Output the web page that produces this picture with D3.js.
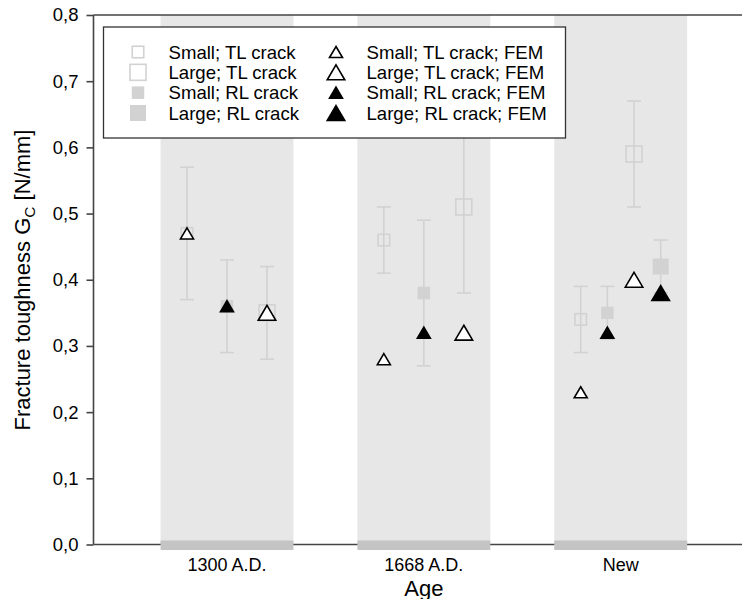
<!DOCTYPE html>
<html>
<head>
<meta charset="utf-8">
<script src="https://cdn.jsdelivr.net/npm/d3@7"></script>
<style>
  html, body { margin: 0; padding: 0; background: #fff; }
  svg { display: block; font-family: "Liberation Sans", Arial, Helvetica, sans-serif; }
</style>
</head>
<body>
<svg id="chart" width="742" height="599"></svg>
<script>
// ---------- data ----------
const categories = ["1300 A.D.", "1668 A.D.", "New"];
const yTicks = [0, 0.1, 0.2, 0.3, 0.4, 0.5, 0.6, 0.7, 0.8];

// experimental means and error bar limits (null = no measurement)
const smallTL = [0.47, 0.46, 0.34];
const smallTLLow = [0.37, 0.41, 0.29];
const smallTLHigh = [0.57, 0.51, 0.39];

const smallRL = [0.36, 0.38, 0.35];
const smallRLLow = [0.29, 0.27, 0.31];
const smallRLHigh = [0.43, 0.49, 0.39];

const largeTL = [0.35, 0.51, 0.59];
const largeTLLow = [0.28, 0.38, 0.51];
const largeTLHigh = [0.42, 0.64, 0.67];

const largeRL = [null, null, 0.42];
const largeRLLow = [null, null, 0.38];
const largeRLHigh = [null, null, 0.46];

// FEM values
const smallTLFEM = [0.47, 0.28, 0.23];
const smallRLFEM = [0.36, 0.32, 0.32];
const largeTLFEM = [0.35, 0.32, 0.40];
const largeRLFEM = [null, null, 0.38];

const seriesNames = ["Small; TL crack", "Large; TL crack", "Small; RL crack", "Large; RL crack"];
const femNames = ["Small; TL crack; FEM", "Large; TL crack; FEM", "Small; RL crack; FEM", "Large; RL crack; FEM"];

// ---------- build series table ----------
const series = [
  { key: "sTL", mean: smallTL, lo: smallTLLow, hi: smallTLHigh, fem: smallTLFEM, size: "s", type: "TL" },
  { key: "sRL", mean: smallRL, lo: smallRLLow, hi: smallRLHigh, fem: smallRLFEM, size: "s", type: "RL" },
  { key: "lTL", mean: largeTL, lo: largeTLLow, hi: largeTLHigh, fem: largeTLFEM, size: "l", type: "TL" },
  { key: "lRL", mean: largeRL, lo: largeRLLow, hi: largeRLHigh, fem: largeRLFEM, size: "l", type: "RL" }
];

const points = [];
categories.forEach((cat, ci) => {
  const present = series.filter(s => s.mean[ci] != null);
  const offs = d3.scalePoint().domain(present.map(s => s.key)).range([-40, 40]);
  present.forEach(s => {
    points.push({ cat, ci, s, off: offs(s.key), mean: s.mean[ci], lo: s.lo[ci], hi: s.hi[ci], fem: s.fem[ci] });
  });
});

// ---------- layout ----------
const svg = d3.select("#chart");
const pLeft = 93.5, pRight = 742, pTop = 15, pBottom = 544.5;

const x = d3.scaleBand().domain(categories).range([pLeft, pRight])
  .paddingInner(64 / 197).paddingOuter(0.3096).align(0.55);
const y = d3.scaleLinear().domain([0, 0.8]).range([pBottom, pTop]);

const locale = d3.formatLocale({ decimal: ",", thousands: ".", grouping: [3], currency: ["", ""] });
const fmt = locale.format(".1f");

const bandFill = "#e6e7e6";
const stripFill = "#c3c4c3";
const lightGrey = "#d2d2d2";
const axisCol = "#444";
const textCol = "#000";

// bands
svg.append("g").selectAll("rect").data(categories).join("rect")
  .attr("x", d => x(d)).attr("width", x.bandwidth())
  .attr("y", pTop).attr("height", pBottom - pTop)
  .attr("fill", bandFill);

// frame lines: top and bottom
svg.append("line").attr("x1", pLeft).attr("x2", pRight).attr("y1", pTop).attr("y2", pTop)
  .attr("stroke", axisCol).attr("stroke-width", 1.6);
svg.append("line").attr("x1", pLeft).attr("x2", pRight).attr("y1", pBottom).attr("y2", pBottom)
  .attr("stroke", axisCol).attr("stroke-width", 1.6);

// bottom strips on the x axis
svg.append("g").selectAll("rect").data(categories).join("rect")
  .attr("x", d => x(d)).attr("width", x.bandwidth())
  .attr("y", pBottom - 4).attr("height", 9.5)
  .attr("fill", stripFill);

// y axis
const yAxis = svg.append("g").attr("transform", `translate(${pLeft},0)`)
  .call(d3.axisLeft(y).tickValues(yTicks).tickFormat(fmt).tickSize(7).tickPadding(8));
yAxis.select(".domain").attr("stroke", axisCol).attr("stroke-width", 1.6).attr("d", `M0,${pTop}V${pBottom}`);
yAxis.selectAll(".tick line").attr("stroke", axisCol).attr("stroke-width", 1.6);
yAxis.selectAll(".tick text").attr("font-size", 18.5).attr("fill", textCol)
  .attr("font-family", "'Liberation Sans', Arial, sans-serif");

// x labels
svg.append("g").selectAll("text").data(categories).join("text")
  .attr("x", d => x(d) + x.bandwidth() / 2).attr("y", 571)
  .attr("text-anchor", "middle").attr("font-size", 18).attr("fill", textCol)
  .text(d => d);

// axis titles
svg.append("text").attr("x", x(categories[1]) + x.bandwidth() / 2).attr("y", 595.5)
  .attr("text-anchor", "middle").attr("font-size", 22).attr("fill", textCol).text("Age");

const yt = svg.append("text").attr("transform", "translate(30,280) rotate(-90)")
  .attr("text-anchor", "middle").attr("font-size", 22).attr("fill", textCol);
yt.append("tspan").text("Fracture toughness G");
yt.append("tspan").attr("font-size", 15.5).attr("dy", 5).text("C");
yt.append("tspan").attr("dy", -5).text(" [N/mm]");

// ---------- marks ----------
const cx = d => x(d.cat) + x.bandwidth() / 2 + d.off;
const capW = 7;
const eb = svg.append("g").attr("stroke", lightGrey).attr("stroke-width", 1.6);
eb.selectAll("line.v").data(points).join("line").attr("class", "v")
  .attr("x1", cx).attr("x2", cx).attr("y1", d => y(d.lo)).attr("y2", d => y(d.hi));
eb.selectAll("line.t").data(points).join("line").attr("class", "t")
  .attr("x1", d => cx(d) - capW).attr("x2", d => cx(d) + capW).attr("y1", d => y(d.hi)).attr("y2", d => y(d.hi));
eb.selectAll("line.b").data(points).join("line").attr("class", "b")
  .attr("x1", d => cx(d) - capW).attr("x2", d => cx(d) + capW).attr("y1", d => y(d.lo)).attr("y2", d => y(d.lo));

function squareAttrs(sel, getX, getY, s) {
  const side = s.size === "s" ? (s.type === "TL" ? 11.5 : 12.5) : 16;
  sel.attr("x", d => getX(d) - side / 2).attr("y", d => getY(d) - side / 2)
    .attr("width", side).attr("height", side);
  if (s.type === "TL") sel.attr("fill", "none").attr("stroke", lightGrey).attr("stroke-width", 1.6);
  else sel.attr("fill", lightGrey).attr("stroke", "none");
}
function triPath(s) {
  const w = s.size === "s" ? 13 : 17.5;
  const h = w * 0.85;
  return `M0,${-h / 2}L${w / 2},${h / 2}L${-w / 2},${h / 2}Z`;
}
function triAttrs(sel, s) {
  sel.attr("d", triPath(s))
    .attr("fill", s.type === "TL" ? "#fff" : "#000")
    .attr("stroke", "#000").attr("stroke-width", 1.6).attr("stroke-linejoin", "miter");
}

const sq = svg.append("g");
series.forEach(s => {
  const pts = points.filter(p => p.s === s);
  squareAttrs(sq.selectAll(null).data(pts).enter().append("rect"), cx, d => y(d.mean), s);
});
const tr = svg.append("g");
series.forEach(s => {
  const pts = points.filter(p => p.s === s && p.fem != null);
  triAttrs(tr.selectAll(null).data(pts).enter().append("path")
    .attr("transform", d => `translate(${cx(d)},${y(d.fem)})`), s);
});

// ---------- legend ----------
const lg = svg.append("g");
lg.append("rect").attr("x", 103.5).attr("y", 27).attr("width", 462).attr("height", 111)
  .attr("fill", "#fff").attr("stroke", "#333").attr("stroke-width", 1.3);
const legendOrder = [series[0], series[2], series[1], series[3]];
const rowY = d3.scalePoint().domain(d3.range(4)).range([52, 113]);
legendOrder.forEach((s, i) => {
  const ry = rowY(i);
  squareAttrs(lg.append("rect").datum(0), () => 138, () => ry, s);
  lg.append("text").attr("x", 168.5).attr("y", ry).attr("dy", "0.35em")
    .attr("font-size", 18.6).attr("fill", textCol).text(seriesNames[i]);
  triAttrs(lg.append("path").attr("transform", `translate(336,${ry})`), s);
  lg.append("text").attr("x", 366.5).attr("y", ry).attr("dy", "0.35em")
    .attr("font-size", 18.6).attr("fill", textCol).text(femNames[i]);
});
</script>
</body>
</html>
